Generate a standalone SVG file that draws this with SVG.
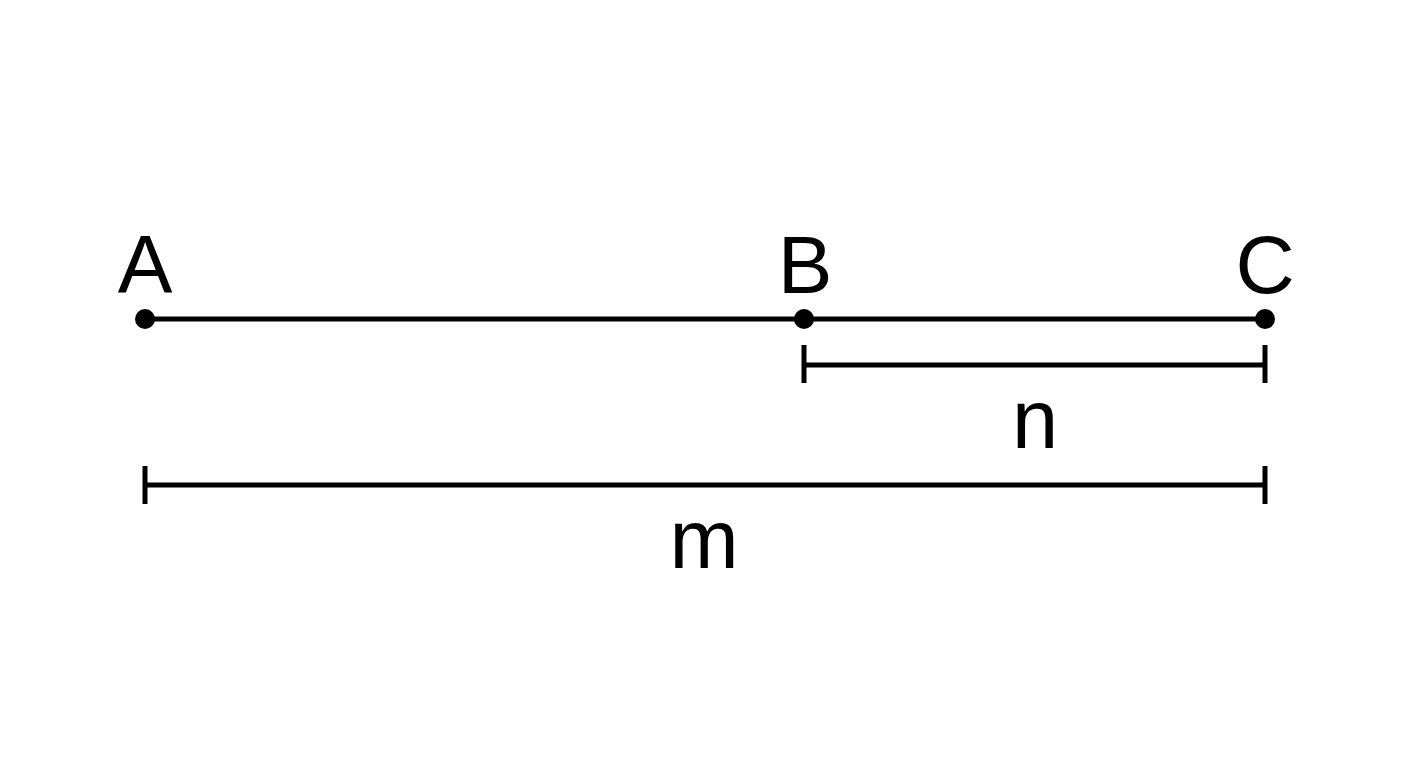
<svg xmlns="http://www.w3.org/2000/svg" width="1408" height="768" viewBox="0 0 1408 768">
<style>
.ln{stroke:#000;stroke-width:5;fill:none}
.lbl{font-family:"Liberation Sans",Arial,sans-serif;font-size:82px;fill:#000;text-anchor:middle}
.dim{font-family:"Liberation Sans",Arial,sans-serif;font-size:83px;fill:#000;text-anchor:middle}
</style>
<rect width="1408" height="768" fill="#fff"/>
<g id="connectors">
<line class="ln" x1="145" y1="319" x2="1265" y2="319"/>
<g id="dim-n">
<line class="ln" x1="804" y1="365" x2="1265" y2="365"/>
<line class="ln" x1="804" y1="345" x2="804" y2="383"/>
<line class="ln" x1="1265" y1="345" x2="1265" y2="383"/>
</g>
<g id="dim-m">
<line class="ln" x1="145" y1="485" x2="1265" y2="485"/>
<line class="ln" x1="145" y1="466" x2="145" y2="504"/>
<line class="ln" x1="1265" y1="466" x2="1265" y2="504"/>
</g>
</g>
<g id="A"><circle cx="145" cy="319" r="10" fill="#000"/><text class="lbl" x="145" y="292">A</text></g>
<g id="B"><circle cx="804" cy="319" r="10" fill="#000"/><text class="lbl" x="805" y="293">B</text></g>
<g id="C"><circle cx="1265" cy="319" r="10" fill="#000"/><text class="lbl" x="1265" y="293">C</text></g>
<g id="label-n"><text class="dim" x="1035" y="448">n</text></g>
<g id="label-m"><text class="dim" x="704" y="568">m</text></g>
</svg>
